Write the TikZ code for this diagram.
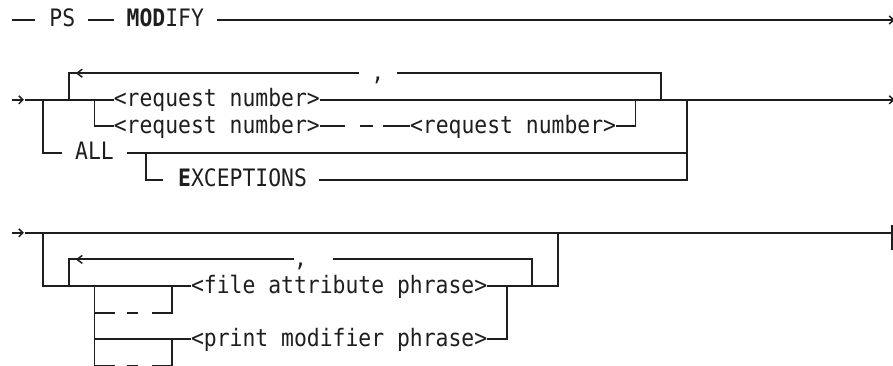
\documentclass[tikz,border=0pt]{standalone}
\usepackage{fontspec}
\newfontfamily\dmono[FakeStretch=0.891]{DejaVu Sans Mono}
\definecolor{ink}{HTML}{1E1E1E}
\begin{document}
\begin{tikzpicture}[x=12.88pt,y=-26.6pt,
  ln/.style={draw=ink,line width=1.9pt,line join=miter},
  chev/.style={draw=ink,line width=1.5pt,line join=miter},
  lbl/.style={inner sep=0pt,outer sep=0pt,anchor=west,text height=19pt,text depth=5pt,font=\dmono\fontsize{24}{24}\selectfont,text=ink}]
\useasboundingbox (-10.8pt,20pt) rectangle (882.2pt,-346pt);

% ---------- row 0 ----------
\draw[ln] (0.1,0) -- (1.9,0);
\node[lbl] (ps) at (3,0) {PS};
\draw[ln] (6,0) -- (8.05,0);
\node[lbl] (modify) at (9,0) {\textbf{MOD}IFY};
\draw[ln] (16,0) -- (68.6,0);
\draw[chev] (68.2,-0.15) -- (68.55,0) -- (68.2,0.15);

% ---------- block 2 ----------
\draw[ln] (0.1,3) -- (0.93,3);
\draw[chev] (0.62,2.85) -- (0.93,3) -- (0.62,3.15);
\node[lbl] (rn1) at (8,3) {<request number>};
\draw[ln] (1.1,3) -- (rn1.west);
\draw[ln] (rn1.east) -- (68.6,3);
\draw[chev] (68.2,2.85) -- (68.55,3) -- (68.2,3.15);
% repeat loop
\draw[ln] (4.5,3) -- (4.5,2) -- (27,2);
\draw[chev] (5.55,1.85) -- (5.14,2) -- (5.55,2.15);
\node[lbl] (comma1) at (28,2) {,};
\draw[ln] (30,2) -- (50.5,2) -- (50.5,3);
% range alternative
\node[lbl] (rn2) at (8,4) {<request number>};
\draw[ln] (6.5,3) -- (6.5,4) -- (rn2.west);
\draw[ln] (rn2.east) -- (25.95,4);
\draw[ln] (27.1,4) -- (28.1,4);
\node[lbl] (rn3) at (31,4) {<request number>};
\draw[ln] (28.9,4) -- (rn3.west);
\draw[ln] (rn3.east) -- (48.5,4) -- (48.5,3);
% ALL
\node[lbl] (all) at (5,5) {ALL};
\draw[ln] (2.5,3) -- (2.5,5) -- (3.97,5);
\draw[ln] (9.05,5) -- (52.5,5);
\draw[ln] (52.5,3) -- (52.5,6) -- (23.9,6);
\node[lbl] (exc) at (13,6) {\textbf{E}XCEPTIONS};
\draw[ln] (10.5,5) -- (10.5,6) -- (11.85,6);

% ---------- block 3 ----------
\draw[ln] (0.1,8) -- (0.93,8);
\draw[chev] (0.62,7.85) -- (0.93,8) -- (0.62,8.15);
\draw[ln] (1.1,8) -- (68.38,8);
\draw[ln] (68.38,7.71) -- (68.38,8.65);
\node[lbl] (fa) at (14,10) {<file attribute phrase>};
\draw[ln] (2.5,8) -- (2.5,10) -- (fa.west);
\draw[ln] (fa.east) -- (42.5,10) -- (42.5,8);
% repeat loop
\draw[ln] (4.5,10) -- (4.5,9) -- (22,9);
\draw[chev] (5.55,8.85) -- (5.14,9) -- (5.55,9.15);
\node[lbl] (comma2) at (22,9) {,};
\draw[ln] (25,9) -- (40.5,9) -- (40.5,10);
% optional bypasses
\draw[ln] (6.5,10) -- (6.5,13) -- (8.1,13);
\draw[ln] (6.5,11) -- (8.1,11);
\draw[ln] (9.02,11) -- (9.88,11);
\draw[ln] (10.96,11) -- (12.5,11) -- (12.5,10);
\node[lbl] (pm) at (14,12) {<print modifier phrase>};
\draw[ln] (6.5,12) -- (pm.west);
\draw[ln] (12.5,12) -- (12.5,13) -- (10.96,13);
\draw[ln] (9.02,13) -- (9.88,13);
\draw[ln] (pm.east) -- (38.5,12) -- (38.5,10);
\end{tikzpicture}
\end{document}
